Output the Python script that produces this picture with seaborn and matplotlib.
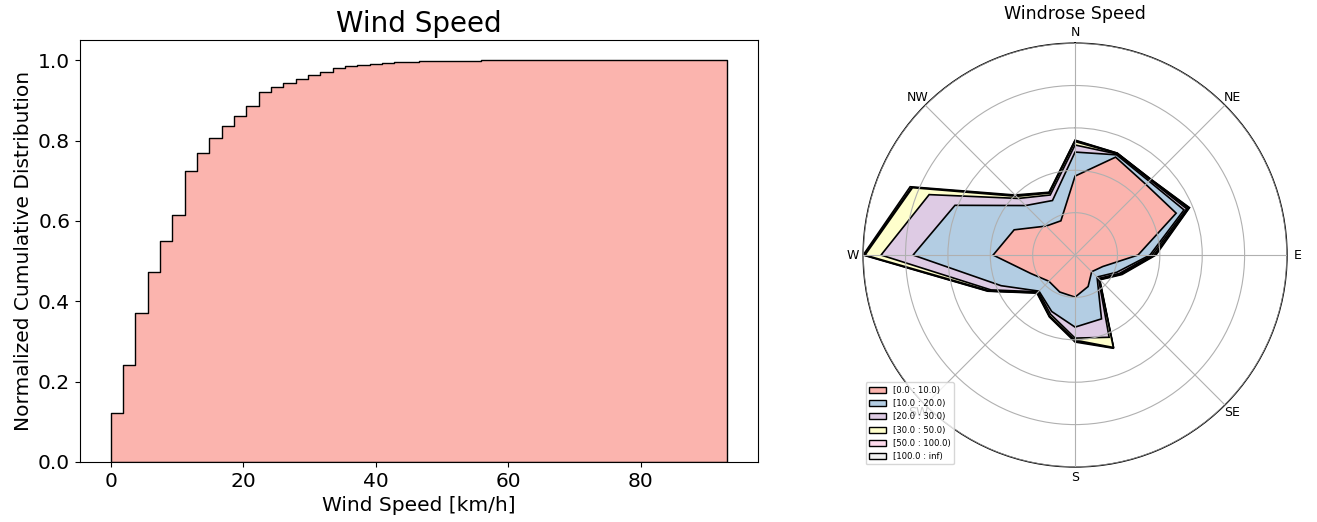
import numpy as np
import pandas as pd
import matplotlib
matplotlib.use("Agg")
import matplotlib.pyplot as plt
import seaborn as sns
from matplotlib.patches import Patch

# ---------------- data: cumulative wind speed distribution ----------------
speed_min = 0.0
speed_max = 93.0
n_bins = 50
cum_fraction = [
    0.121, 0.241, 0.371, 0.473, 0.551, 0.616, 0.724, 0.769, 0.806, 0.837,
    0.861, 0.885, 0.920, 0.933, 0.944, 0.954, 0.963, 0.971, 0.981, 0.986,
    0.989, 0.991, 0.993, 0.995, 0.996, 0.997, 0.998, 0.9985, 0.999, 0.9993,
    0.9995, 0.9996, 0.9997, 0.9997, 0.9998, 0.9998, 0.9998, 0.9999, 0.9999, 0.9999,
    0.9999, 0.9999, 0.9999, 0.9999, 0.9999, 0.9999, 0.9999, 0.9999, 0.9999, 1.0,
]

# ---------------- data: windrose (frequency %, stacked by speed class) -----
directions = ["N", "NNE", "NE", "ENE", "E", "ESE", "SE", "SSE",
              "S", "SSW", "SW", "WSW", "W", "WNW", "NW", "NNW"]
dir_degrees = [0, 22.5, 45, 67.5, 90, 112.5, 135, 157.5,
               180, 202.5, 225, 247.5, 270, 292.5, 315, 337.5]
speed_labels = ["[0.0 : 10.0)", "[10.0 : 20.0)", "[20.0 : 30.0)",
                "[30.0 : 50.0)", "[50.0 : 100.0)", "[100.0 : inf)"]
freq_0_10 = [5.03, 6.75, 6.37, 6.97, 4.01, 1.91, 1.50, 2.17,
             2.68, 2.55, 2.36, 3.06, 5.22, 4.20, 2.61, 2.36]
freq_10_20 = [1.53, 0.16, 0.29, 0.54, 0.76, 0.96, 0.48, 2.23,
              1.91, 1.34, 0.89, 2.04, 5.10, 4.08, 1.85, 1.40]
freq_20_30 = [0.45, 0.06, 0.10, 0.19, 0.13, 0.19, 0.13, 1.27,
              0.70, 0.19, 0.06, 0.70, 2.04, 1.78, 0.64, 0.38]
freq_30_50 = [0.22, 0.03, 0.04, 0.10, 0.13, 0.06, 0.06, 0.70,
              0.13, 0.13, 0.06, 0.13, 1.02, 1.15, 0.19, 0.13]
freq_50_100 = [0.06, 0.02, 0.02, 0.06, 0.06, 0.06, 0.03, 0.03,
               0.06, 0.03, 0.03, 0.06, 0.06, 0.06, 0.06, 0.03]
freq_100_inf = [0.03, 0.01, 0.01, 0.03, 0.06, 0.06, 0.03, 0.03,
                0.06, 0.03, 0.03, 0.03, 0.06, 0.10, 0.06, 0.03]
speed_series = [freq_0_10, freq_10_20, freq_20_30, freq_30_50, freq_50_100, freq_100_inf]
colors = ["#fbb4ae", "#b3cde3", "#decbe4", "#ffffcc", "#fddaec", "#f2f2f2"]

compass_labels = ["N", "NE", "E", "SE", "S", "SW", "W", "NW"]
compass_degrees = [0, 45, 90, 135, 180, 225, 270, 315]

# ---------------- figure ----------------
fig = plt.figure(figsize=(13.17, 5.22), dpi=100)

# left: cumulative histogram
ax1 = fig.add_axes([0.0607, 0.115, 0.5148, 0.808])
edges = np.linspace(speed_min, speed_max, n_bins + 1)
centers = (edges[:-1] + edges[1:]) / 2
weights = np.diff(np.concatenate([[0.0], cum_fraction]))
hist_df = pd.DataFrame({"speed": centers, "w": weights})
sns.histplot(data=hist_df, x="speed", weights="w", bins=list(edges), stat="probability",
             cumulative=True, element="step", fill=True,
             color="#fbb4ae", edgecolor="black", linewidth=1.0, alpha=1.0, ax=ax1)
ax1.set_title("Wind Speed", fontsize=20)
ax1.set_xlabel("Wind Speed [km/h]", fontsize=14.5)
ax1.set_ylabel("Normalized Cumulative Distribution", fontsize=14.5)
ax1.tick_params(labelsize=14.5)
ax1.set_xticks([0, 20, 40, 60, 80])
ax1.set_yticks([0.0, 0.2, 0.4, 0.6, 0.8, 1.0])
ax1.set_xlim(-4.65, 97.65)
ax1.set_ylim(0, 1.05)

# right: windrose
ax2 = fig.add_axes([0.6553, 0.1054, 0.322, 0.812], projection="polar")
ax2.set_theta_zero_location("N")
ax2.set_theta_direction(-1)
theta = np.deg2rad(dir_degrees)
theta_closed = np.append(theta, theta[0])
cum = np.zeros(len(directions))
layers = []
for s in speed_series:
    cum = cum + np.array(s)
    layers.append(cum.copy())
for i in reversed(range(len(layers))):
    vals = np.append(layers[i], layers[i][0])
    ax2.fill(theta_closed, vals, facecolor=colors[i], edgecolor="black",
             linewidth=1.2, zorder=1 + 0.1 * (len(layers) - i))
rmax = layers[-1].max()
ax2.set_ylim(0, rmax)
ax2.set_yticks(np.linspace(0, rmax, 6)[1:])
ax2.set_yticklabels([])
ax2.set_xticks(np.deg2rad(compass_degrees))
ax2.set_xticklabels(compass_labels, fontsize=9)
ax2.tick_params(axis="x", pad=-3)
ax2.spines["polar"].set_color("black")
ax2.spines["polar"].set_linewidth(1.0)
ax2.set_axisbelow(False)
ax2.grid(True, color="#b0b0b0", linewidth=0.8)
ax2.set_title("Windrose Speed", fontsize=12.5, y=1.057, pad=0)
handles = [Patch(facecolor=c, edgecolor="black", label=l) for c, l in zip(colors, speed_labels)]
ax2.legend(handles=handles, loc="lower left", fontsize=6.1, borderaxespad=0.3)

fig.savefig("out.png", dpi=100)
